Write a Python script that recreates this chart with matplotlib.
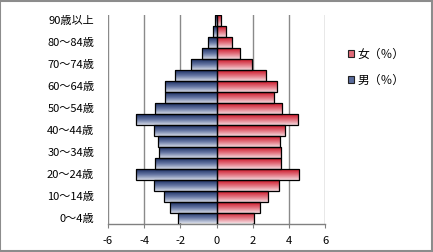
import matplotlib
matplotlib.use("Agg")
import matplotlib.pyplot as plt
import numpy as np
from matplotlib.patches import Patch, Rectangle
from matplotlib.colors import LinearSegmentedColormap

plt.rcParams['font.family'] = ['Noto Sans CJK JP', 'DejaVu Sans']
plt.rcParams['axes.unicode_minus'] = False

categories = ["0～4歳", "5～9歳", "10～14歳", "15～19歳", "20～24歳", "25～29歳",
              "30～34歳", "35～39歳", "40～44歳", "45～49歳", "50～54歳", "55～59歳",
              "60～64歳", "65～69歳", "70～74歳", "75～79歳", "80～84歳", "85～89歳",
              "90歳以上"]
male = [2.11, 2.57, 2.89, 3.46, 4.48, 3.41, 3.19, 3.24, 3.46, 4.43,
        3.41, 2.83, 2.83, 2.28, 1.39, 0.80, 0.50, 0.20, 0.08]
female = [2.09, 2.37, 2.81, 3.44, 4.53, 3.56, 3.54, 3.50, 3.80, 4.50,
          3.61, 3.17, 3.33, 2.72, 1.94, 1.28, 0.87, 0.50, 0.26]
xticks = [-6, -4, -2, 0, 2, 4, 6]
legend_labels = ["女（％）", "男（％）"]

W, H = 433, 252
fig = plt.figure(figsize=(W / 100, H / 100), dpi=100)
ax = fig.add_axes([108 / W, 1 - 223.5 / H, (325.3 - 108) / W, (223.5 - 15) / H])

y = np.arange(len(categories))
male_cmap = LinearSegmentedColormap.from_list("m", ["#d4d9e6", "#6576a3", "#1b2d62"])
female_cmap = LinearSegmentedColormap.from_list("f", ["#f4d9de", "#e2707d", "#cc1628"])

bm = ax.barh(y, [-v for v in male], height=1.0, color="none", edgecolor="black", linewidth=0.9, zorder=3)
bf = ax.barh(y, female, height=1.0, color="none", edgecolor="black", linewidth=0.9, zorder=3)

grad = np.linspace(0, 1, 64).reshape(-1, 1)
for bars, cmap in ((bm, male_cmap), (bf, female_cmap)):
    for p in bars:
        x0, y0 = p.get_x(), p.get_y()
        w, h = p.get_width(), p.get_height()
        ax.imshow(grad, cmap=cmap, aspect="auto", origin="lower",
                  extent=(x0, x0 + w, y0, y0 + h), zorder=2, interpolation="bilinear")

ax.set_xlim(-6, 6)
ax.set_ylim(-0.5, len(categories) - 0.5)
ax.set_xticks(xticks)
ax.set_xticklabels([str(t) for t in xticks], fontsize=8)
ax.set_yticks(y[::2])
ax.set_yticklabels(categories[::2], fontsize=8)
ax.tick_params(axis="y", length=0, pad=10)
ax.tick_params(axis="x", length=3, color="#808080", pad=6)
for t in xticks:
    ax.axvline(t, color="#8a8a8a", linewidth=1.0, zorder=1)
for s in ("top", "right", "left"):
    ax.spines[s].set_visible(False)
ax.spines["bottom"].set_color("#808080")
ax.spines["bottom"].set_linewidth(1.0)

handles = [Patch(facecolor="#e06a78", edgecolor="#222222", linewidth=0.8),
           Patch(facecolor="#5a6c9c", edgecolor="#222222", linewidth=0.8)]
fig.legend(handles, legend_labels, loc="upper left", bbox_to_anchor=(343 / W, 1 - 43 / H),
           frameon=False, fontsize=8.5, handlelength=0.55, handleheight=0.55,
           handletextpad=0.3, labelspacing=1.1, borderaxespad=0)

fig.add_artist(Rectangle((0.001, 0.002), 0.997, 0.995, transform=fig.transFigure,
                         fill=False, edgecolor="#8c8c8c", linewidth=1.5))

fig.savefig("out.png", dpi=100)
